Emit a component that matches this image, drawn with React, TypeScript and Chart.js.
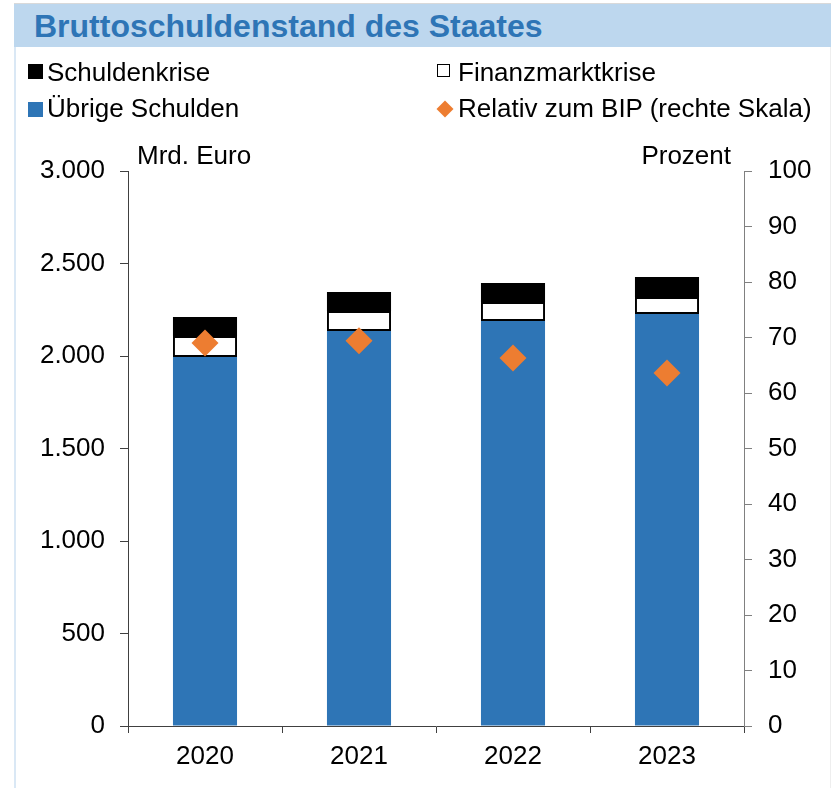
import React, { useEffect, useRef } from "react";
import { Chart, registerables } from "chart.js";

Chart.register(...registerables);

const years = ["2020", "2021", "2022", "2023"];
const uebrigeSchulden = [1995, 2135, 2189, 2227];
const finanzmarktkrise = [113, 108, 103, 92];
const schuldenkrise = [103, 103, 103, 108];
const relativZumBip = [69.0, 69.4, 66.3, 63.6];

const FONT = '"Liberation Sans", Arial, sans-serif';

function fmt(v: number): string {
  const s = String(Math.round(v));
  return s.replace(/\B(?=(\d{3})+(?!\d))/g, ".");
}

export default function App() {
  const ref = useRef<HTMLCanvasElement | null>(null);

  useEffect(() => {
    const prev = document.body.style.margin;
    document.body.style.margin = "0";
    const ctx = ref.current!;
    const tickFont = { family: FONT, size: 26 };
    const chart = new Chart(ctx, {
      type: "bar",
      data: {
        labels: years,
        datasets: [
          {
            type: "line" as any,
            label: "Relativ zum BIP (rechte Skala)",
            data: relativZumBip,
            yAxisID: "y1",
            showLine: false,
            pointStyle: "rectRot",
            pointRadius: 13.5,
            pointBackgroundColor: "#ed7d31",
            pointBorderColor: "#ed7d31",
            pointBorderWidth: 0,
            order: 0,
          } as any,
          {
            label: "Übrige Schulden",
            data: uebrigeSchulden,
            backgroundColor: "#2e75b6",
            borderWidth: 0,
            yAxisID: "y",
            order: 1,
            categoryPercentage: 1,
            barPercentage: 0.416,
          },
          {
            label: "Finanzmarktkrise",
            data: finanzmarktkrise,
            backgroundColor: "#ffffff",
            borderColor: "#000000",
            borderWidth: 2,
            borderSkipped: false,
            yAxisID: "y",
            order: 1,
            categoryPercentage: 1,
            barPercentage: 0.416,
          },
          {
            label: "Schuldenkrise",
            data: schuldenkrise,
            backgroundColor: "#000000",
            borderWidth: 0,
            yAxisID: "y",
            order: 1,
            categoryPercentage: 1,
            barPercentage: 0.416,
          },
        ],
      },
      options: {
        animation: false,
        responsive: false,
        maintainAspectRatio: false,
        devicePixelRatio: 1,
        layout: { padding: { top: 171, left: 0, right: 0, bottom: 0 } },
        plugins: {
          legend: { display: false },
          tooltip: { enabled: false },
        },
        scales: {
          x: {
            stacked: true,
            offset: true,
            grid: {
              display: true,
              drawOnChartArea: false,
              drawTicks: true,
              tickLength: 7,
              color: "#404040",
              offset: true,
            },
            border: { display: true, color: "#404040", width: 1 },
            ticks: { font: tickFont, color: "#000", padding: 8 },
            afterFit: (s: any) => {
              s.height = 62;
            },
          },
          y: {
            position: "left",
            stacked: true,
            min: 0,
            max: 3000,
            ticks: {
              stepSize: 500,
              font: tickFont,
              color: "#000",
              padding: 15,
              callback: (v: any) => fmt(Number(v)),
            },
            grid: {
              drawOnChartArea: false,
              tickLength: 8,
              color: "#404040",
            },
            border: { display: true, color: "#404040", width: 1 },
            afterFit: (s: any) => {
              s.width = 128;
            },
          },
          y1: {
            position: "right",
            min: 0,
            max: 100,
            ticks: {
              stepSize: 10,
              font: tickFont,
              color: "#000",
              padding: 16,
            },
            grid: {
              drawOnChartArea: false,
              tickLength: 8,
              color: "#808080",
            },
            border: { display: true, color: "#808080", width: 1 },
            afterFit: (s: any) => {
              s.width = 87;
            },
          },
        },
      } as any,
    });
    return () => {
      chart.destroy();
      document.body.style.margin = prev;
    };
  }, []);

  const text: React.CSSProperties = {
    position: "absolute",
    fontFamily: FONT,
    fontSize: 26,
    lineHeight: "29px",
    color: "#000",
    whiteSpace: "nowrap",
  };

  return (
    <div
      style={{
        position: "fixed",
        left: 0,
        top: 0,
        width: 831,
        height: 788,
        background: "#fff",
        overflow: "hidden",
      }}
    >
      <canvas
        ref={ref}
        width={831}
        height={788}
        style={{ position: "absolute", left: 0, top: 0, width: 831, height: 788 }}
      />
      {/* frame */}
      <div style={{ position: "absolute", left: 14, top: 3, width: 817, height: 1, background: "#d9d9d9" }} />
      <div style={{ position: "absolute", left: 14, top: 4, width: 817, height: 43, background: "#bdd7ee" }} />
      <div style={{ position: "absolute", left: 14, top: 47, width: 2, height: 741, background: "#dae8f5" }} />
      <div style={{ position: "absolute", left: 830, top: 47, width: 1, height: 741, background: "#eeeeee" }} />
      {/* title */}
      <div
        style={{
          position: "absolute",
          left: 34,
          top: 8,
          fontFamily: FONT,
          fontWeight: "bold",
          fontSize: 32,
          lineHeight: "36px",
          color: "#2e75b6",
          whiteSpace: "nowrap",
        }}
      >
        Bruttoschuldenstand des Staates
      </div>
      {/* legend */}
      <div style={{ position: "absolute", left: 28, top: 64, width: 15, height: 15, background: "#000" }} />
      <div style={{ ...text, left: 47, top: 58 }}>Schuldenkrise</div>
      <div
        style={{
          position: "absolute",
          left: 437,
          top: 64,
          width: 11,
          height: 11,
          border: "1.5px solid #000",
          background: "#fff",
        }}
      />
      <div style={{ ...text, left: 458, top: 58 }}>Finanzmarktkrise</div>
      <div style={{ position: "absolute", left: 28, top: 102, width: 15, height: 15, background: "#2e75b6" }} />
      <div style={{ ...text, left: 47, top: 94 }}>Übrige Schulden</div>
      <div
        style={{
          position: "absolute",
          left: 439,
          top: 103,
          width: 12,
          height: 12,
          background: "#ed7d31",
          transform: "rotate(45deg)",
        }}
      />
      <div style={{ ...text, left: 458, top: 94 }}>Relativ zum BIP (rechte Skala)</div>
      {/* axis titles */}
      <div style={{ ...text, left: 137, top: 141 }}>Mrd. Euro</div>
      <div style={{ ...text, left: 531, width: 200, textAlign: "right", top: 141 }}>Prozent</div>
    </div>
  );
}
